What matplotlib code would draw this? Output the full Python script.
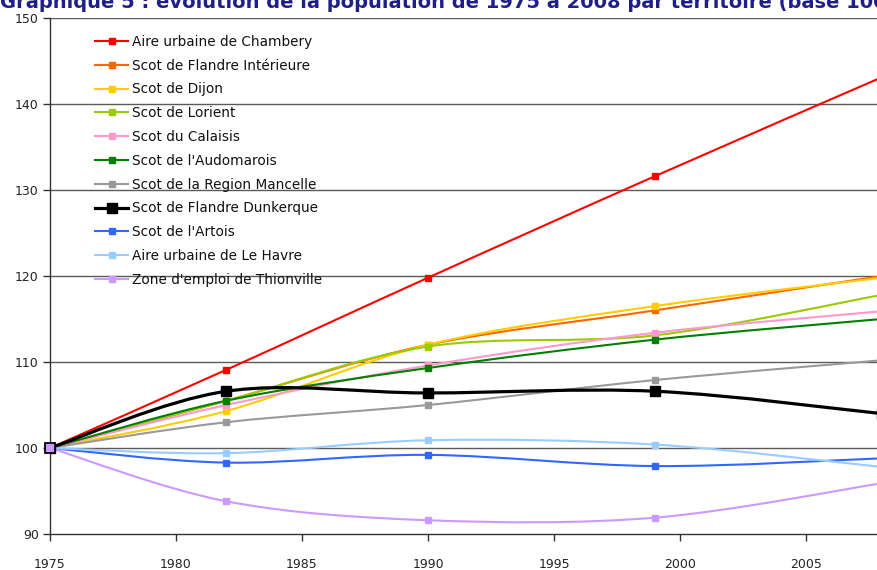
import numpy as np
import matplotlib
matplotlib.use("Agg")
import matplotlib.pyplot as plt
from matplotlib.path import Path
from matplotlib.patches import PathPatch
from matplotlib.lines import Line2D

# --- data (index, base 100 in 1975) ---
years = [1975, 1982, 1990, 1999, 2008]
names = [
    "Aire urbaine de Chambery",
    "Scot de Flandre Intérieure",
    "Scot de Dijon",
    "Scot de Lorient",
    "Scot du Calaisis",
    "Scot de l'Audomarois",
    "Scot de la Region Mancelle",
    "Scot de Flandre Dunkerque",
    "Scot de l'Artois",
    "Aire urbaine de Le Havre",
    "Zone d'emploi de Thionville",
]
chambery = [100, 109.1, 119.8, 131.6, 143.1]
flandre_int = [100, 105.5, 112.0, 116.0, 120.0]
dijon = [100, 104.3, 112.0, 116.5, 119.8]
lorient = [100, 105.5, 111.8, 113.1, 117.8]
calaisis = [100, 105.0, 109.6, 113.4, 115.9]
audomarois = [100, 105.5, 109.3, 112.6, 115.0]
mancelle = [100, 103.0, 105.0, 107.9, 110.2]
dunkerque = [100, 106.6, 106.4, 106.6, 104.0]
artois = [100, 98.3, 99.2, 97.9, 98.8]
havre = [100, 99.4, 100.9, 100.4, 97.8]
thionville = [100, 93.8, 91.6, 91.9, 95.9]
series = [chambery, flandre_int, dijon, lorient, calaisis, audomarois,
          mancelle, dunkerque, artois, havre, thionville]

colors = ["#FF0000", "#FF6600", "#FFCC00", "#99CC00", "#FF99CC", "#008000",
          "#999999", "#000000", "#3366FF", "#99CCFF", "#CC99FF"]


def smooth_path(x, y):
    # Excel-style smoothed line: cubic Bezier through the points
    pts = np.column_stack([x, y]).astype(float)
    n = len(pts)
    verts = [pts[0]]
    codes = [Path.MOVETO]
    for i in range(n - 1):
        p0 = pts[i - 1] if i > 0 else pts[i]
        p1, p2 = pts[i], pts[i + 1]
        p3 = pts[i + 2] if i + 2 < n else pts[i + 1]
        c1 = p1 + (p2 - p0) / 6.0
        c2 = p2 - (p3 - p1) / 6.0
        verts += [c1, c2, p2]
        codes += [Path.CURVE4] * 3
    return Path(verts, codes)


fig = plt.figure(figsize=(8.78, 5.70), dpi=100)
ax = fig.add_axes([50 / 878, 1 - 534 / 570, 1 - 50 / 878, 516 / 570])

handles = []
for name, vals, col in zip(names, series, colors):
    big = col == "#000000"
    lw = 2.3 if big else 1.5
    ms = 7 if big else 4.2
    ax.add_patch(PathPatch(smooth_path(years, vals), fill=False, edgecolor=col,
                           lw=lw, zorder=3))
    ax.plot(years, vals, ls="none", marker="s", ms=ms, color=col, zorder=4)
    handles.append(Line2D([], [], color=col, lw=lw, marker="s", ms=ms))

# Thionville 1975 marker sits on top with a dark edge
ax.plot(years[0], thionville[0], marker="s", ms=7.5, mfc=colors[-1], mec="black",
        mew=1.3, zorder=5, clip_on=False)

ax.set_xlim(1975, 1975 + (878 - 50) / 25.2)
ax.set_ylim(90, 150)
ax.set_xticks([1975, 1980, 1985, 1990, 1995, 2000, 2005])
ax.set_yticks([90, 100, 110, 120, 130, 140, 150])
for yv in [100, 110, 120, 130, 140, 150]:
    ax.axhline(yv, color="#5a5a5a", lw=1.0, zorder=1)

for s in ["top", "right"]:
    ax.spines[s].set_visible(False)
for s in ["left", "bottom"]:
    ax.spines[s].set_color("#333333")
    ax.spines[s].set_linewidth(1.0)
ax.tick_params(direction="out", length=5, width=1, color="#333333",
               labelsize=9, labelcolor="#222222", pad=3)
ax.tick_params(axis="x", pad=12)

leg = ax.legend(handles, names, loc="upper left", bbox_to_anchor=(0.048, 0.978),
                frameon=False, fontsize=9.8, handlelength=2.4, handletextpad=0.3,
                labelspacing=0.72, borderaxespad=0)
for t in leg.get_texts():
    t.set_color("#111111")

fig.text(0.0, 1 - 8 / 570,
         "Graphique 5 : évolution de la population de 1975 à 2008 par territoire (base 100)",
         fontsize=14, fontweight="bold", color="#1f1f8a", ha="left", va="baseline")

fig.savefig("out.png", dpi=100)
